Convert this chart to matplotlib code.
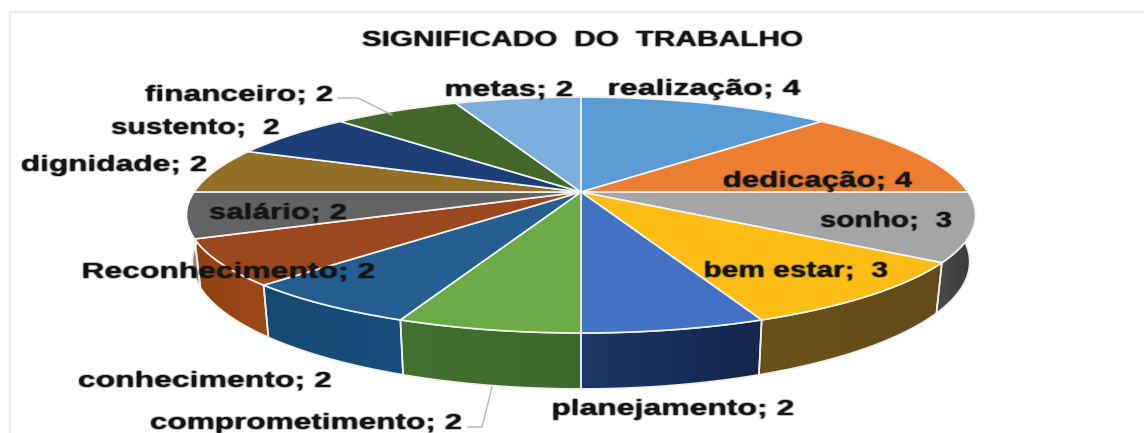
import matplotlib
matplotlib.use('Agg')
import matplotlib.pyplot as plt
import numpy as np
from matplotlib.colors import LinearSegmentedColormap
from matplotlib.patches import PathPatch, Rectangle
from matplotlib.path import Path
from matplotlib.transforms import Transform

names = ['realização', 'dedicação', 'sonho', 'bem estar', 'planejamento', 'comprometimento', 'conhecimento',
         'Reconhecimento', 'salário', 'dignidade', 'sustento', 'financeiro', 'metas']
values = [4, 4, 3, 3, 2, 2, 2, 2, 2, 2, 2, 2, 2]
separators = ['; ', '; ', ';  ', ';  ', '; ', '; ', '; ', '; ', '; ', '; ', ';  ', '; ', '; ']
title = 'SIGNIFICADO  DO  TRABALHO'

top_colours = ['#5b9bd5', '#ed7d31', '#a5a5a5', '#fdbd14', '#4472c4', '#6cab47', '#255e91',
               '#9b481f', '#636363', '#937028', '#1d3f78', '#43682b', '#7cafdd']
rim_left = ['#3b6a94', '#a5561f', '#4c4c4c', '#6a501a', '#1c3866', '#41702f', '#174a72',
            '#8e4015', '#8a8a8a', '#6a501a', '#1c3866', '#2f4a1f', '#5580a0']
rim_right = ['#3b6a94', '#a5561f', '#3a3a3a', '#634c1a', '#13264d', '#3b6a2c', '#1a4f7d',
             '#a04a1a', '#8a8a8a', '#6a501a', '#1c3866', '#2f4a1f', '#5580a0']

# label box (left edge, middle, width) in picture pixels
label_x = [608, 723, 820, 704, 552, 150, 78, 82, 209, 21, 111, 145, 445]
label_y = [89, 181, 220, 270, 409, 423, 380, 271, 212, 165, 127, 94, 89]
label_w = [193, 189, 132, 184, 243, 312, 254, 293, 138, 186, 169, 188, 129]

cx, cy = 581, 192
scale_x, scale_y, tilt = 387, 113.5, 0.195
depth, shrink = 45, 0.985


class Tilt(Transform):
    input_dims = 2
    output_dims = 2

    def transform_non_affine(self, xy):
        xy = np.asarray(xy, dtype=float)
        w = 1 + tilt * xy[:, 1]
        return np.column_stack([cx + scale_x * xy[:, 0] / w, cy - scale_y * xy[:, 1] / w])


def rim_path(theta1, theta2):
    t = np.radians(np.linspace(theta1, theta2, 40))
    w = 1 + tilt * np.sin(t)
    tx = cx + scale_x * np.cos(t) / w
    ty = cy - scale_y * np.sin(t) / w
    bx = cx + shrink * scale_x * np.cos(t) / w
    by = cy - scale_y * np.sin(t) / w + depth / w
    return Path(np.column_stack([np.r_[tx, bx[::-1], tx[0]], np.r_[ty, by[::-1], ty[0]]]), closed=True)


def stretch_filter(k):
    # the reference text is a wide, soft upscale: stretch and blur what the text artist draws
    def flt(img, dpi):
        h, w = img.shape[:2]
        new_w = int(round(w * k))
        xs = np.linspace(0, w - 1, new_w)
        out = np.zeros((h + 4, new_w + 4, 4))
        for c in range(4):
            for r in range(h):
                out[r + 2, 2:-2, c] = np.interp(xs, np.arange(w), img[r, :, c])
        kernel = np.array([0.2, 0.6, 0.2])
        a = out[:, :, 3]
        a = np.apply_along_axis(lambda v: np.convolve(v, kernel, mode='same'), 0, a)
        a = np.apply_along_axis(lambda v: np.convolve(v, kernel, mode='same'), 1, a)
        out[:, :, 3] = np.clip(a * 1.4, 0, 1)
        out[:, :, :3] = 20 / 255
        return out, -2, -2
    return flt


fig = plt.figure(figsize=(11.44, 4.33), dpi=100)
ax = fig.add_axes([0, 0, 1, 1])

wedges, _ = ax.pie(values, colors=top_colours, startangle=90, counterclock=False,
                   wedgeprops={'edgecolor': '#f4f4f0', 'linewidth': 1.2, 'zorder': 5})
tilted = Tilt() + ax.transData
for w in wedges:
    w.set_transform(tilted)

# side wall, one gradient per slice
for w, c0, c1 in zip(wedges, rim_left, rim_right):
    p = rim_path(w.theta1, w.theta2)
    x0, y0 = p.vertices.min(axis=0)
    x1, y1 = p.vertices.max(axis=0)
    cmap = LinearSegmentedColormap.from_list('rim', [c0, c1])
    im = ax.imshow(np.linspace(0, 1, 64)[None, :], cmap=cmap, extent=(x0, x1, y1, y0), aspect='auto', zorder=2)
    im.set_clip_path(p, transform=ax.transData)
    ax.add_patch(PathPatch(p, fc='none', ec='#f0f0ea', lw=1.2, zorder=3))

ax.set_aspect('auto')
ax.set_xlim(0, 1144)
ax.set_ylim(433, 0)
ax.axis('off')

ax.add_patch(Rectangle((10, 12), 1200, 500, fc='white', ec='#eeeeee', lw=1.5, zorder=0))

# leader lines
ax.plot([338, 358, 392], [98, 98, 115], color='#b5b5b5', lw=1, zorder=6)
ax.plot([468, 482, 492], [427, 427, 387], color='#b5b5b5', lw=1, zorder=6)

font = 'Liberation Sans'
renderer = fig.canvas.get_renderer()
for n, v, sep, x, y, tw in zip(names, values, separators, label_x, label_y, label_w):
    t = ax.text(x, y + 1, n + sep + str(v), family=font, weight='bold', fontsize=16, color='#14141e',
                ha='left', va='center', zorder=8)
    t.set_agg_filter(stretch_filter(tw / t.get_window_extent(renderer).width))
t = ax.text(362, 41, title, family=font, weight='bold', fontsize=15.5, color='#14141e', ha='left', va='center', zorder=8)
t.set_agg_filter(stretch_filter(441 / t.get_window_extent(renderer).width))

fig.savefig('out.png', dpi=100)
